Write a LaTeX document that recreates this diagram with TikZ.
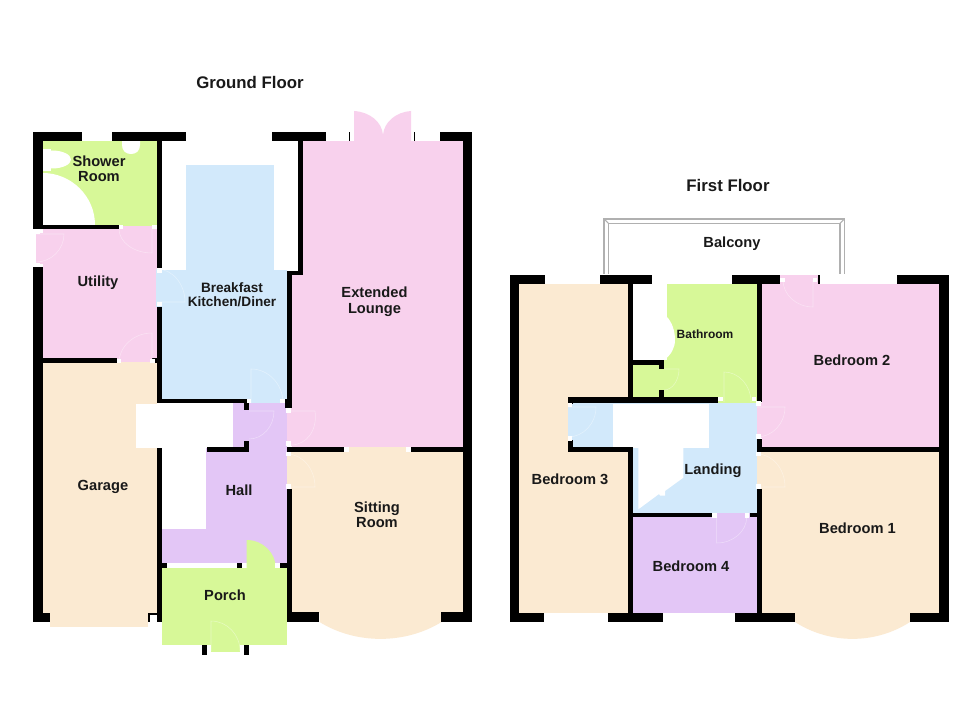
\documentclass[tikz,border=0pt]{standalone}
\usepackage{fontspec}
\setmainfont{Liberation Sans}
\usetikzlibrary{calc}
\definecolor{cgreen}{HTML}{D7F898}
\definecolor{cpink}{HTML}{F8D1ED}
\definecolor{cblue}{HTML}{D2E9FB}
\definecolor{cbeige}{HTML}{FBEAD2}
\definecolor{clilac}{HTML}{E3C6F6}
\definecolor{cwall}{HTML}{000000}
\definecolor{cbal}{HTML}{B0B0B0}
\tikzset{
  wall/.style={fill=cwall,draw=none},
  green room/.style={fill=cgreen,draw=none},
  pink room/.style={fill=cpink,draw=none},
  blue room/.style={fill=cblue,draw=none},
  beige room/.style={fill=cbeige,draw=none},
  lilac room/.style={fill=clilac,draw=none},
  blank/.style={fill=white,draw=none},
  doorline/.style={draw=white,line width=0.4pt,opacity=0.4},
  balcony line/.style={draw=cbal,line width=0.8pt},
  label/.style={inner sep=0pt,align=center,text=black!90,font=\bfseries\fontsize{11}{11.4}\selectfont},
  small label/.style={label,font=\bfseries\fontsize{9}{10}\selectfont},
  tight label/.style={label,font=\bfseries\fontsize{10.2}{10.4}\selectfont},
  wide label/.style={label,font=\bfseries\fontsize{11}{11.8}\selectfont},
  title label/.style={inner sep=0pt,text=black!90,font=\bfseries\fontsize{12.6}{14}\selectfont},
}
% wall rectangle: x1,y1,x2,y2
\newcommand{\wl}[4]{\fill[wall] (#1,#2) rectangle (#3,#4);}
% white door jamb
\newcommand{\jamb}[2]{\fill[blank] (#1-2.3,#2-2.3) rectangle (#1+2.3,#2+2.3);}
% door leaf: hinge, leaf vector, swing vector
\newcommand{\leaf}[6]{\draw[doorline] (#1,#2) -- ++(#3,#4) .. controls ($(#1,#2)+(#3,#4)+0.55*(#5,#6)$) and ($(#1,#2)+(#5,#6)+0.55*(#3,#4)$) .. ($(#1,#2)+(#5,#6)$);}
\begin{document}
\begin{tikzpicture}[x=0.75pt,y=-0.75pt]
\useasboundingbox (0,0) rectangle (980,712);
\fill[white] (0,0) rectangle (980,712);

%%%%% GROUND FLOOR fills
% shower room
\fill[green room] (42.7,141) rectangle (157,226);
\fill[blank] (42.7,225) -- (42.7,173) .. controls (71,173) and (95,196) .. (95,225) -- cycle;
\fill[blank] (42.7,149) rectangle (51,171);
\fill[blank] (52,159.5) ellipse [x radius=19,y radius=9];
\fill[blank] (122,141) -- (122,145) .. controls (122,151) and (126,154) .. (131,154) .. controls (136,154) and (140,151) .. (140,145) -- (140,141) -- cycle;
% utility
\fill[pink room] (42.7,226) rectangle (157,362);
\fill[pink room] (36,233) rectangle (43,264);
% garage
\fill[beige room] (42.7,362) rectangle (157,613);
\fill[beige room] (50,612) rectangle (147.5,626.5);
% kitchen
\fill[blue room] (186,165) rectangle (274,272);
\fill[blue room] (161,270) rectangle (287,400);
\fill[blue room] (156,269) rectangle (162,307);
\fill[blue room] (249,398) rectangle (286,404);
% lounge
\fill[pink room] (302.5,141) rectangle (463.5,276);
\fill[pink room] (291.5,274) rectangle (463.5,447.5);
\fill[pink room] (286,408) rectangle (292,446);
\fill[pink room] (354,141) -- (354,111) .. controls (370,112) and (382,122) .. (383,135) .. controls (384,122) and (396,112) .. (411,111) -- (411,141) -- cycle;
% sitting room
\fill[beige room] (291.5,451) rectangle (463.5,613);
\fill[beige room] (344,446.7) rectangle (411,452);
\fill[beige room] (286,451.5) rectangle (292,489);
\fill[beige room] (319.5,612) -- (319.5,622) .. controls (356,644.5) and (405,644.5) .. (441.5,622) -- (441.5,612) -- cycle;
% hall
\fill[lilac room] (232.7,403) rectangle (286.5,450);
\fill[lilac room] (206,448) rectangle (286.5,563);
\fill[lilac room] (162,529) rectangle (286.5,563);
% porch
\fill[green room] (162,568) rectangle (286.5,645);
\fill[green room] (211,644) -- (240,644) -- (240,651.5) -- (211,651.5) -- cycle;
\fill[green room] (246.7,569) -- (246.7,540) .. controls (263,540) and (276,553) .. (276,569) -- cycle;

%%%%% GROUND FLOOR stairs
\fill[blank] (136,404) rectangle (232.7,448);
\fill[blank] (162,448) rectangle (206,529.3);
\fill[blank] (159.5,519) rectangle (162,529.3);

%%%%% GROUND FLOOR walls
\wl{33.3}{131.7}{82.3}{140.7}
\wl{111.7}{131.7}{185.7}{140.7}
\wl{33.3}{131.7}{42.7}{229.5}
\wl{33.3}{267}{42.7}{622.3}
\wl{33.3}{612.7}{50}{622.3}
\wl{42.7}{225}{119}{229.5}
\wl{157}{140}{161.5}{268.5}
\wl{157}{306.7}{161.5}{399}
\wl{42.7}{358.3}{117}{363}
\wl{152}{358.3}{157}{363}
\wl{157}{399}{244}{403.3}
\wl{244}{399}{249}{410}
\wl{244}{441}{249}{451.7}
\wl{206.7}{447}{249}{451.7}
\wl{157}{448}{161.7}{622}
\wl{148}{612.7}{161.7}{615}
\wl{148}{612.7}{150}{622.3}
\wl{285}{399}{291.7}{408}
\wl{286.7}{270.7}{302.7}{275}
\wl{298}{140}{302.7}{275}
\wl{286.7}{270.7}{291.7}{408}
\wl{272}{131.7}{325.7}{140.7}
\wl{440}{131.7}{472.3}{140.7}
\wl{463.3}{131.7}{472.3}{622.3}
\wl{286.7}{446.7}{344}{451.7}
\wl{411}{446.7}{463.3}{451.7}
\wl{286.7}{489}{291.7}{622.3}
\wl{286.7}{612.3}{319.3}{622.3}
\wl{441.3}{612.3}{472.3}{622.3}
\wl{161.7}{563}{166.7}{568}
\wl{237}{563}{242}{568}
\wl{280}{563}{286.7}{568}
\wl{201.7}{645}{206.7}{655}
\wl{244}{645}{249}{655}
\wl{348.7}{131.7}{349.7}{140.7}
\wl{414}{131.7}{415}{140.7}

%%%%% FIRST FLOOR balcony
\draw[balcony line] (604,274) -- (604,219) -- (844.3,219) -- (844.3,274);
\draw[balcony line] (608.3,274) -- (608.3,223.3) -- (840,223.3) -- (840,274);
\draw[balcony line] (604,219) -- (608.3,223.3);
\draw[balcony line] (844.3,219) -- (840,223.3);

%%%%% FIRST FLOOR fills
% bedroom 3
\fill[beige room] (519.3,284) rectangle (628.5,613);
% bathroom
\fill[green room] (666.7,284) rectangle (757,403);
\fill[green room] (632.7,360) rectangle (757,398);
\fill[blank] (632.7,284) -- (666.7,284) -- (666.7,316.7) .. controls (672,322) and (675,331) .. (675,340) .. controls (675,348) and (671,355) .. (664,360) -- (632.7,360) -- cycle;
% bedroom 2
\fill[pink room] (761.5,284) rectangle (939.5,447);
\fill[pink room] (780,275) rectangle (818,285);
\fill[pink room] (756,403) rectangle (762,438);
% bedroom 1
\fill[beige room] (761.5,451.5) rectangle (939.5,613);
\fill[beige room] (756,451.5) rectangle (762,489);
\fill[beige room] (795,612) -- (795,622) .. controls (830,644.5) and (875,644.5) .. (910,622) -- (910,612) -- cycle;
% landing
\fill[blue room] (567.7,402.5) rectangle (756.7,447);
\fill[blue room] (632.7,447) rectangle (756.7,513);
% landing stairs
\fill[blank] (612.7,404) rectangle (709.3,448.3);
\fill[blank] (638.3,448) -- (683.3,448) -- (683.3,477.7) -- (665,491) -- (665,495.5) -- (660,495.5) -- (659,494) -- (638.3,509.3) -- cycle;
% bedroom 4
\fill[lilac room] (632.7,517) rectangle (756.7,613);
\fill[lilac room] (711.7,512.5) rectangle (750,518);

%%%%% FIRST FLOOR walls
\wl{510}{275}{545}{284.3}
\wl{600}{275}{652.3}{284.3}
\wl{732.3}{275}{780}{284.3}
\wl{818}{275}{819.5}{284.3}
\wl{897.3}{275}{949.3}{284.3}
\wl{510}{275}{519.3}{622.3}
\wl{939.3}{275}{949.3}{622.3}
\wl{628}{284}{632.7}{397}
\wl{567.7}{396.7}{718}{402.5}
\wl{567.7}{396.7}{572.5}{404}
\wl{567.7}{440}{572.5}{451.7}
\wl{567.7}{446.7}{632.7}{451.7}
\wl{628}{451.7}{632.7}{613}
\wl{632.7}{360}{664}{365}
\wl{659}{360}{664}{369}
\wl{659}{390}{664}{398}
\wl{628}{512.7}{712}{517.3}
\wl{750}{512.7}{761}{517.3}
\wl{756.7}{284}{761.5}{402}
\wl{756.7}{439}{761.5}{451.7}
\wl{756.7}{446.7}{939.3}{451.7}
\wl{756.7}{489}{761.5}{613}
\wl{510}{612.7}{544}{622.3}
\wl{608}{612.7}{663.3}{622.3}
\wl{734.7}{612.7}{795}{622.3}
\wl{910}{612.7}{949.3}{622.3}

%%%%% door jambs
\jamb{121}{227}\jamb{154.5}{227}
\jamb{37.5}{231.7}\jamb{37.5}{265}
\jamb{159.3}{271}\jamb{159.3}{304}
\jamb{119}{361}\jamb{152.5}{361}
\jamb{249}{401}\jamb{282.7}{401}
\jamb{288.3}{410.7}\jamb{288.3}{443.3}
\jamb{288.3}{454}\jamb{288.3}{486.7}
\jamb{346.7}{449.3}\jamb{408.3}{449.3}
\jamb{244}{565.7}\jamb{277.3}{565.7}
\jamb{570}{405}\jamb{570}{438.3}
\jamb{720.7}{399}\jamb{754}{399}
\jamb{758.7}{403.7}\jamb{758.7}{436.7}
\jamb{758.3}{454}\jamb{758.3}{486.7}
\jamb{714.3}{515.3}\jamb{747}{515.3}
\jamb{782.3}{280}\jamb{815}{280}
\fill[blank] (166.7,563) rectangle (237,568);

%%%%% faint door leaves
\leaf{36}{234}{28}{0}{0}{28}
\leaf{152}{229}{0}{24}{-33}{0}
\leaf{152}{363}{0}{-30}{-33}{0}
\leaf{157}{302}{28}{0}{0}{-33}
\leaf{251}{403}{0}{-34}{32}{0}
\leaf{249}{411}{25}{0}{0}{28}
\leaf{286}{411}{29}{0}{5}{34}
\leaf{287}{487}{28}{0}{0}{-33}
\leaf{211}{651}{0}{-30}{29}{0}
\leaf{568}{407}{28}{0}{0}{30}
\leaf{664}{369}{15}{0}{0}{21}
\leaf{724}{402}{0}{-30}{27}{0}
\leaf{716.7}{517}{0}{26}{30}{0}
\leaf{813}{280}{0}{27}{-30}{0}
\leaf{757}{407}{28}{0}{0}{30}
\leaf{757}{487}{28}{0}{0}{-33}

%%%%% labels
\node[title label] (groundtitle) at (250,83) {Ground Floor};
\node[title label] (firsttitle) at (728,185.5) {First Floor};
\node[label] (shower) at (99,168.5) {Shower\\Room};
\node[label] (utility) at (98,282.5) {Utility};
\node[tight label] (kitchen) at (232,295) {Breakfast\\Kitchen/Diner};
\node[wide label] (lounge) at (374.5,301.5) {Extended\\Lounge};
\node[label] (garage) at (103,486.5) {Garage};
\node[label] (hall) at (239,490.5) {Hall};
\node[label] (sitting) at (377,514.5) {Sitting\\Room};
\node[label] (porch) at (225,595) {Porch};
\node[label] (balcony) at (732,243.5) {Balcony};
\node[label] (bed3) at (570,479.5) {Bedroom 3};
\node[small label] (bath) at (705,334) {Bathroom};
\node[label] (bed2) at (852,360) {Bedroom 2};
\node[label] (landing) at (713,470.5) {Landing};
\node[label] (bed1) at (857.5,528) {Bedroom 1};
\node[label] (bed4) at (691,566) {Bedroom 4};
\end{tikzpicture}
\end{document}
